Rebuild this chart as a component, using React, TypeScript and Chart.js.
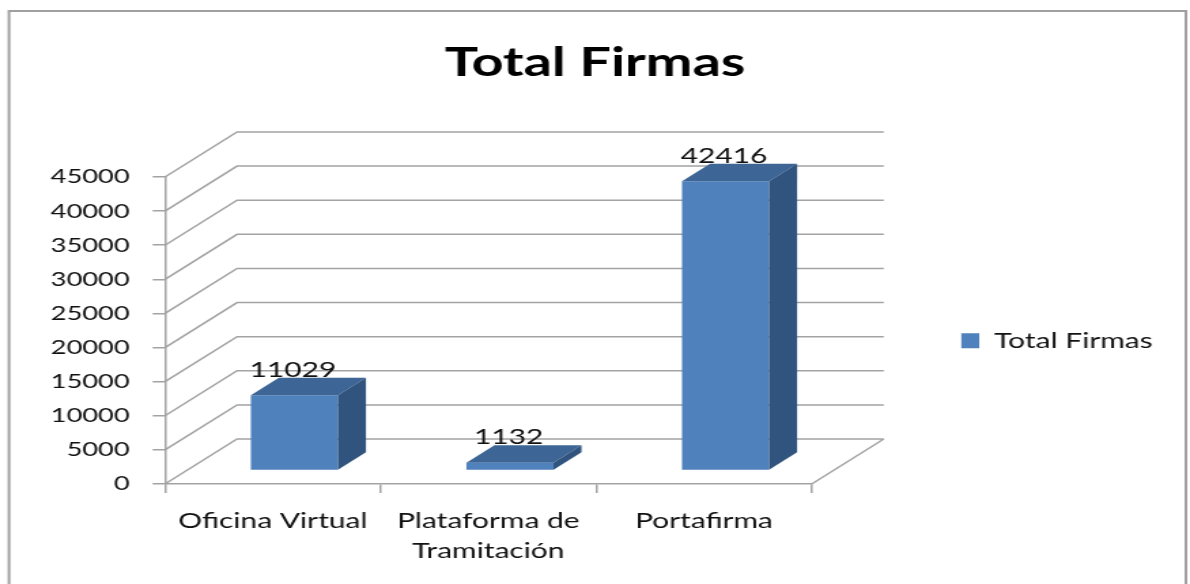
import React, { useEffect, useRef } from 'react';
import { Chart, registerables } from 'chart.js';

Chart.register(...registerables);

// ---- data ----
const chartTitle = 'Total Firmas';
const seriesLabel = 'Total Firmas';
const categories: (string | string[])[] = ['Oficina Virtual', ['Plataforma de', 'Tramitación'], 'Portafirma'];
const seriesValues = [11029, 1132, 42416];
const yMin = 0;
const yMax = 45000;
const yStep = 5000;

// ---- styles ----
const FONT = 'Lato';
const FRONT_COLOR = '#4F81BD';
const TOP_COLOR = '#3D6696';
const SIDE_COLOR = '#31547E';
const GRID_COLOR = '#A3A3A3';
const TEXT_COLOR = '#111111';

// canvas is drawn narrower and stretched horizontally, like the reference picture
const CANVAS_W = 875;
const CANVAS_H = 584;
const VIEW_W = 1190;
const SIDE_PAD = 17.5;

// 3D projection offsets (canvas px)
const WALL = { dx: 53, dy: 45 };
const BAR_FRONT = { dx: 15.9, dy: 13.5 };
const BAR_BACK = { dx: 36.5, dy: 31 };

const threeDPlugin = {
  id: 'threeD',
  beforeDraw(chart: any) {
    const { ctx } = chart;
    ctx.save();
    ctx.fillStyle = '#ffffff';
    ctx.fillRect(0, 0, chart.width, chart.height);
    ctx.strokeStyle = '#A0A0A0';
    ctx.lineWidth = 2;
    ctx.strokeRect(6.6, 11, 865.4, 620);
    ctx.restore();
  },
  beforeDatasetsDraw(chart: any) {
    const { ctx, chartArea: a } = chart;
    const ys = chart.scales.y;
    ctx.save();
    ctx.strokeStyle = GRID_COLOR;
    ctx.lineWidth = 1.5;
    ctx.beginPath();
    for (const t of ys.ticks) {
      const py = ys.getPixelForValue(t.value);
      ctx.moveTo(a.left, py);
      ctx.lineTo(a.left + WALL.dx, py - WALL.dy);
      ctx.lineTo(a.right + WALL.dx, py - WALL.dy);
    }
    ctx.moveTo(a.right, a.bottom);
    ctx.lineTo(a.right + WALL.dx, a.bottom - WALL.dy);
    ctx.stroke();
    ctx.restore();
  },
  beforeDatasetDraw(chart: any) {
    chart.ctx.save();
    chart.ctx.translate(BAR_FRONT.dx, -BAR_FRONT.dy);
  },
  afterDatasetDraw(chart: any) {
    chart.ctx.restore();
  },
  afterDatasetsDraw(chart: any) {
    const { ctx } = chart;
    const meta = chart.getDatasetMeta(0);
    const values = chart.data.datasets[0].data;
    const ddx = BAR_BACK.dx - BAR_FRONT.dx;
    const ddy = BAR_BACK.dy - BAR_FRONT.dy;
    ctx.save();
    meta.data.forEach((bar: any, i: number) => {
      const { x, y, base, width } = bar.getProps(['x', 'y', 'base', 'width'], true);
      const l = x - width / 2 + BAR_FRONT.dx;
      const r = x + width / 2 + BAR_FRONT.dx;
      const t = y - BAR_FRONT.dy;
      const b = base - BAR_FRONT.dy;
      // top face
      ctx.fillStyle = TOP_COLOR;
      ctx.beginPath();
      ctx.moveTo(l, t);
      ctx.lineTo(r, t);
      ctx.lineTo(r + ddx, t - ddy);
      ctx.lineTo(l + ddx, t - ddy);
      ctx.closePath();
      ctx.fill();
      // side face
      ctx.fillStyle = SIDE_COLOR;
      ctx.beginPath();
      ctx.moveTo(r, t);
      ctx.lineTo(r + ddx, t - ddy);
      ctx.lineTo(r + ddx, b - ddy);
      ctx.lineTo(r, b);
      ctx.closePath();
      ctx.fill();
      // value label
      ctx.fillStyle = TEXT_COLOR;
      ctx.font = `22px ${FONT}`;
      ctx.textAlign = 'center';
      ctx.textBaseline = 'alphabetic';
      ctx.fillText(String(values[i]), x + BAR_FRONT.dx - 1, y - BAR_BACK.dy - 1);
    });
    ctx.restore();
  },
};

export default function App() {
  const ref = useRef<HTMLCanvasElement | null>(null);

  useEffect(() => {
    if (!ref.current) return;
    const chart = new Chart(ref.current, {
      type: 'bar',
      data: {
        labels: categories as any,
        datasets: [
          {
            label: seriesLabel,
            data: seriesValues,
            backgroundColor: FRONT_COLOR,
            borderWidth: 0,
            categoryPercentage: 1,
            barPercentage: 0.404,
            clip: false as any,
          },
        ],
      },
      options: {
        responsive: false,
        animation: false,
        devicePixelRatio: 1,
        events: [],
        layout: { padding: { left: SIDE_PAD, right: SIDE_PAD, top: 0, bottom: 0 } },
        scales: {
          x: {
            offset: true,
            grid: {
              display: true,
              offset: true,
              drawOnChartArea: false,
              drawTicks: true,
              tickLength: 9,
              color: GRID_COLOR,
              lineWidth: 1.5,
            },
            border: { display: true, color: GRID_COLOR, width: 1.5 },
            ticks: {
              color: TEXT_COLOR,
              padding: 13,
              maxRotation: 0,
              autoSkip: false,
              font: { family: FONT, size: 22, lineHeight: 1.364 },
            },
            afterFit: (s: any) => {
              s.height = 100;
            },
          },
          y: {
            min: yMin,
            max: yMax,
            grid: {
              display: true,
              drawOnChartArea: false,
              drawTicks: true,
              tickLength: 9,
              color: GRID_COLOR,
              lineWidth: 1.5,
            },
            border: { display: true, color: GRID_COLOR, width: 1.5 },
            ticks: {
              stepSize: yStep,
              color: TEXT_COLOR,
              padding: 17,
              font: { family: FONT, size: 20 },
              callback: (v: any) => String(v),
            },
            afterFit: (s: any) => {
              s.width = 121.3 - SIDE_PAD;
            },
          },
        },
        plugins: {
          title: {
            display: true,
            text: chartTitle,
            color: '#000000',
            font: { family: FONT, size: 41, weight: 'bold', lineHeight: 1.2 },
            padding: { top: 38.4, bottom: 89.4 },
          },
          legend: {
            display: true,
            position: 'right',
            align: 'center',
            fullSize: false,
            maxWidth: 400,
            title: {
              display: true,
              text: ' ',
              font: { family: FONT, size: 2, lineHeight: 1 },
              padding: { top: 18.6, bottom: 0 },
            },
            labels: {
              color: TEXT_COLOR,
              font: { family: FONT, size: 22 },
              boxWidth: 13.2,
              boxHeight: 15,
              padding: 110,
            },
          },
          tooltip: { enabled: false },
        },
      },
      plugins: [threeDPlugin],
    } as any);
    return () => chart.destroy();
  }, []);

  return (
    <div style={{ position: 'absolute', left: 0, top: 0, width: VIEW_W, height: CANVAS_H, background: '#fff' }}>
      <canvas
        ref={ref}
        width={CANVAS_W}
        height={CANVAS_H}
        style={{ width: `${VIEW_W}px`, height: `${CANVAS_H}px`, display: 'block' }}
      />
    </div>
  );
}
